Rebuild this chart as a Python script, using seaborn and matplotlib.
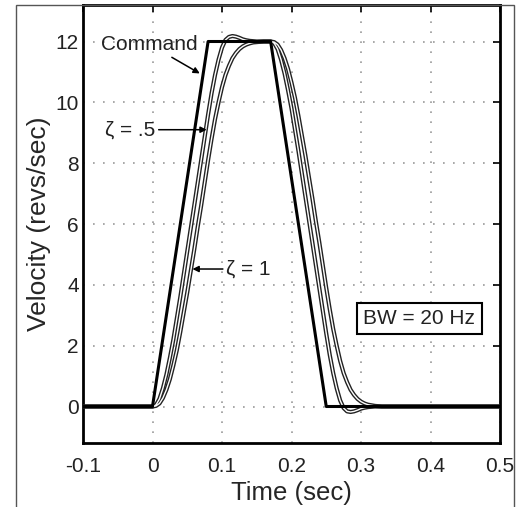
import matplotlib
matplotlib.use("Agg")
import matplotlib.pyplot as plt
import matplotlib.patches as mpatches
import seaborn as sns
import pandas as pd

# Velocity command profile (trapezoid)
t_cmd = [-0.1, 0.0, 0.08, 0.17, 0.25, 0.5]
v_cmd = [0, 0, 12, 12, 0, 0]

# Time samples for the closed-loop responses
t_resp = [-0.1, 0.0, 0.005, 0.01, 0.015, 0.02, 0.025, 0.03, 0.035, 0.04,
          0.045, 0.05, 0.055, 0.06, 0.065, 0.07, 0.075, 0.08, 0.085, 0.09,
          0.095, 0.1, 0.105, 0.11, 0.115, 0.12, 0.125, 0.13, 0.135, 0.14,
          0.145, 0.15, 0.155, 0.16, 0.165, 0.17, 0.175, 0.18, 0.185, 0.19,
          0.195, 0.2, 0.205, 0.21, 0.215, 0.22, 0.225, 0.23, 0.235, 0.24,
          0.245, 0.25, 0.255, 0.26, 0.265, 0.27, 0.275, 0.28, 0.285, 0.29,
          0.295, 0.3, 0.305, 0.31, 0.315, 0.32, 0.325, 0.33, 0.5]

# Response with damping ratio 0.5
v_zeta05 = [0, 0, 0.05, 0.25, 0.6, 1.05, 1.6, 2.2, 2.9, 3.6,
            4.35, 5.1, 5.85, 6.6, 7.35, 8.1, 8.85, 9.6, 10.3, 10.9,
            11.4, 11.8, 12.05, 12.15, 12.18, 12.16, 12.12, 12.07, 12.04, 12.02,
            12.01, 12.0, 12.0, 12.0, 12.0, 12.0, 11.95, 11.75, 11.4, 10.95,
            10.4, 9.8, 9.1, 8.4, 7.65, 6.9, 6.15, 5.4, 4.65, 3.9,
            3.15, 2.4, 1.7, 1.1, 0.6, 0.2, -0.05, -0.16, -0.18, -0.16,
            -0.12, -0.07, -0.04, -0.02, -0.01, 0.0, 0.0, 0.0, 0]

# Response with damping ratio 1
v_zeta1 = [0, 0, 0.02, 0.1, 0.28, 0.55, 0.9, 1.35, 1.85, 2.45,
           3.1, 3.75, 4.45, 5.15, 5.9, 6.6, 7.35, 8.1, 8.8, 9.45,
           10.0, 10.5, 10.9, 11.2, 11.45, 11.62, 11.75, 11.84, 11.9, 11.94,
           11.97, 11.98, 11.99, 12.0, 12.0, 12.0, 11.98, 11.9, 11.72, 11.45,
           11.1, 10.65, 10.15, 9.55, 8.9, 8.25, 7.55, 6.85, 6.1, 5.4,
           4.65, 3.9, 3.2, 2.55, 2.0, 1.5, 1.1, 0.8, 0.55, 0.38,
           0.25, 0.16, 0.1, 0.06, 0.04, 0.02, 0.01, 0.0, 0]

x_ticks = [-0.1, 0, 0.1, 0.2, 0.3, 0.4, 0.5]
x_ticklabels = ["-0.1", "0", "0.1", "0.2", "0.3", "0.4", "0.5"]
y_ticks = [0, 2, 4, 6, 8, 10, 12]

sns.set_theme(style="white")
plt.rcParams["font.family"] = ["Liberation Sans", "DejaVu Sans"]

fig = plt.figure(figsize=(5.2, 5.07), dpi=100)
ax = fig.add_axes([83 / 520, 1 - 443 / 507, 417 / 520, 438 / 507])

cmd = pd.DataFrame({"t": t_cmd, "v": v_cmd})
resp = pd.DataFrame({"t": t_resp, "z05": v_zeta05, "z1": v_zeta1})

# Responses drawn as hollow (outlined) strokes
for col in ["z1", "z05"]:
    sns.lineplot(data=resp, x="t", y=col, ax=ax, color="#222222", lw=3.0,
                 estimator=None, sort=False, zorder=3)
    sns.lineplot(data=resp, x="t", y=col, ax=ax, color="white", lw=1.0,
                 estimator=None, sort=False, zorder=4)
sns.lineplot(data=cmd, x="t", y="v", ax=ax, color="black", lw=2.2,
             estimator=None, sort=False, zorder=5)

ax.set_xlim(-0.1, 0.5)
ax.set_ylim(-1.2, 13.2)
ax.set_xticks(x_ticks)
ax.set_xticklabels(x_ticklabels)
ax.set_yticks(y_ticks)
ax.set_xlabel("Time (sec)", fontsize=18.5, labelpad=4)
ax.set_ylabel("Velocity (revs/sec)", fontsize=19, labelpad=3)
ax.tick_params(axis="both", direction="in", length=5, width=1.2,
               labelsize=15, top=True, right=True, color="black",
               labelcolor="#222222")
ax.tick_params(axis="x", pad=10)
ax.tick_params(axis="y", pad=3)
ax.grid(True, color="#999999", linestyle=(0, (1, 5)), lw=1.2)
for s in ax.spines.values():
    s.set_visible(True)
    s.set_color("black")
    s.set_linewidth(2.0)

ann = dict(arrowstyle="-|>", color="black", lw=1.1, mutation_scale=9,
           shrinkA=0, shrinkB=0)
ax.annotate("Command", xy=(0.068, 10.95), xytext=(-0.004, 11.9),
            fontsize=15, ha="center", va="center", color="#222222",
            arrowprops=ann, zorder=6)
ax.annotate("ζ = .5", xy=(0.078, 9.1), xytext=(-0.032, 9.1),
            fontsize=15, ha="center", va="center", color="#222222",
            arrowprops=dict(ann, relpos=(1.0, 0.5)), zorder=6)
ax.annotate("ζ = 1", xy=(0.0575, 4.52), xytext=(0.138, 4.52),
            fontsize=15, ha="center", va="center", color="#222222",
            arrowprops=dict(ann, relpos=(0.0, 0.5)), zorder=6)
ax.text(0.384, 2.89, "BW = 20 Hz", fontsize=15, ha="center", va="center",
        color="#222222", zorder=6,
        bbox=dict(boxstyle="square,pad=0.3", fc="white", ec="black", lw=1.5))

# Outer frame around the figure
frame = mpatches.Rectangle((16 / 520, -0.05), 498 / 520, 1.05 - 4.5 / 507,
                           transform=fig.transFigure, fill=False,
                           ec="#555555", lw=1.0)
fig.patches.append(frame)
for lab in ax.get_xticklabels():
    lab.set_clip_path(frame)

fig.savefig("out.png", dpi=100)
